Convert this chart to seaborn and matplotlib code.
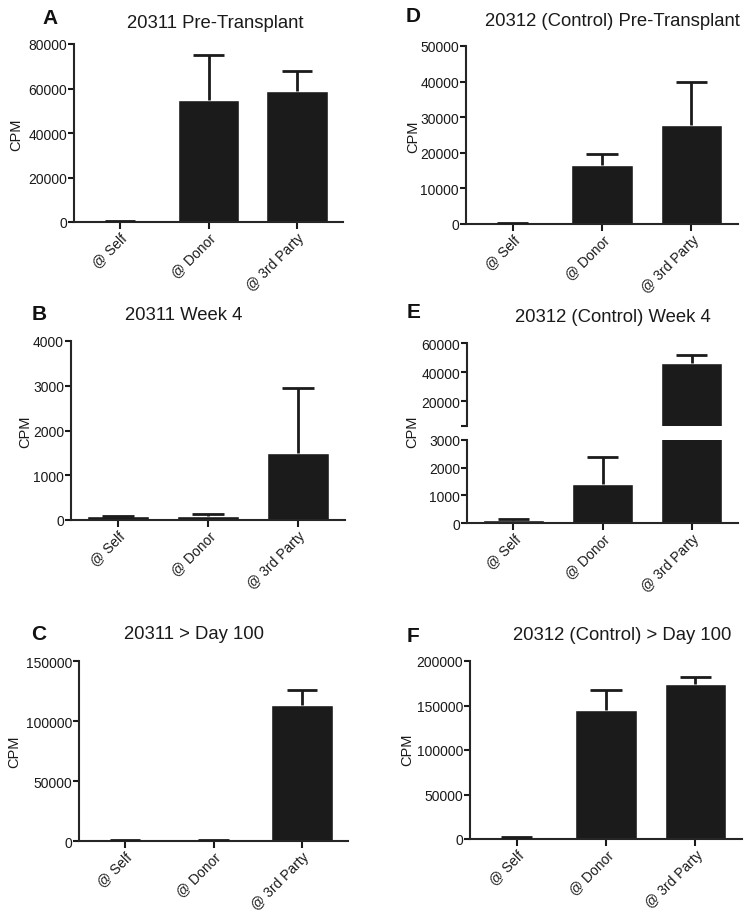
import numpy as np
import matplotlib
matplotlib.use('Agg')
import matplotlib.pyplot as plt
import seaborn as sns

# ─────────────────────────────────────────────
# Data (CPM, mean + SEM)
# ─────────────────────────────────────────────
categories = ['@ Self', '@ Donor', '@ 3rd Party']

a_mean = [300, 55000, 59000]
a_err = [200, 20000, 9000]

b_mean = [80, 100, 1500]
b_err = [20, 30, 1440]

c_mean = [600, 600, 113000]
c_err = [200, 200, 13000]

d_mean = [250, 16700, 27800]
d_err = [100, 2900, 12000]

e_mean = [110, 1420, 46200]
e_err = [30, 970, 5500]

f_mean = [2000, 144500, 174500]
f_err = [800, 23000, 8000]

sns.set_style('ticks')
plt.rcParams['font.family'] = ['Liberation Sans', 'DejaVu Sans']

W, H = 751, 920
fig = plt.figure(figsize=(W / 100, H / 100), dpi=100)


def box(l, t, r, b):
    return [l / W, 1 - b / H, (r - l) / W, (b - t) / H]


def px(x, y):
    return x / W, 1 - y / H


BAR = '#1b1b1b'
LW = 1.5


def style_axes(ax, bottom=True):
    for s in ['top', 'right']:
        ax.spines[s].set_visible(False)
    ax.spines['left'].set_linewidth(LW)
    ax.spines['bottom'].set_linewidth(LW)
    ax.spines['bottom'].set_visible(bottom)
    ax.tick_params(axis='y', length=4, width=LW, pad=1, labelsize=10, colors='#1a1a1a')
    ax.tick_params(axis='x', length=5, width=LW, pad=1, labelsize=10, colors='#1a1a1a')
    ax.set_xlim(-0.52, 2.52)
    ax.set_xlabel('')
    ax.set_ylabel('')


def draw_bars(ax, mean, err):
    sns.barplot(x=categories, y=mean, color=BAR, saturation=1, width=0.69,
                errorbar=None, ax=ax)
    # upper-only SEM bars (GraphPad "mean + SEM" style)
    xs = np.arange(len(mean))
    tops = np.array(mean) + np.array(err)
    ax.vlines(xs, mean, tops, color=BAR, lw=2, zorder=3)
    ax.hlines(tops, xs - 0.175, xs + 0.175, color=BAR, lw=2, zorder=3)


def rotate_labels(ax):
    ax.set_xticks(range(len(categories)))
    ax.set_xticklabels(categories, rotation=45, ha='right', rotation_mode='anchor')


def simple_panel(rect, mean, err, ymax, step):
    ax = fig.add_axes(box(*rect))
    draw_bars(ax, mean, err)
    ax.set_ylim(0, ymax)
    ax.set_yticks(np.arange(0, ymax + 1, step))
    ax.set_yticklabels([f'{int(v)}' for v in np.arange(0, ymax + 1, step)])
    style_axes(ax)
    rotate_labels(ax)
    return ax


# Left column
simple_panel((74, 45, 343, 223), a_mean, a_err, 80000, 20000)
simple_panel((71, 342, 345, 521), b_mean, b_err, 4000, 1000)
simple_panel((79, 662, 348, 842), c_mean, c_err, 150000, 50000)

# Right column
simple_panel((466, 47, 738, 225), d_mean, d_err, 50000, 10000)
simple_panel((470, 662, 742, 840), f_mean, f_err, 200000, 50000)

# Panel E: broken y axis
ax_top = fig.add_axes(box(467, 344, 738, 427))
draw_bars(ax_top, e_mean, e_err)
ax_top.set_ylim(3000, 60000)
ax_top.set_yticks([3000, 20000, 40000, 60000])
ax_top.set_yticklabels(['', '20000', '40000', '60000'])
style_axes(ax_top, bottom=False)
ax_top.set_xticks([])

ax_bot = fig.add_axes(box(467, 441, 738, 524))
draw_bars(ax_bot, e_mean, e_err)
ax_bot.set_ylim(0, 3000)
ax_bot.set_yticks([0, 1000, 2000, 3000])
ax_bot.set_yticklabels(['0', '1000', '2000', '3000'])
style_axes(ax_bot)
rotate_labels(ax_bot)

# Titles, panel letters, y labels
titles = [
    ('A', (42, 19), '20311 Pre-Transplant', (215, 23), (16, 135)),
    ('B', (32, 315), '20311 Week 4', (184, 316), (25, 432)),
    ('C', (31, 635), '20311 > Day 100', (194, 635), (14, 752)),
    ('D', (406, 17), '20312 (Control) Pre-Transplant', (612, 22), (413, 137)),
    ('E', (407, 313), '20312 (Control) Week 4', (613, 318), (412, 432)),
    ('F', (407, 637), '20312 (Control) > Day 100', (622, 636), (407, 750)),
]
for letter, lpos, title, tpos, ypos in titles:
    fig.text(*px(*lpos), letter, fontsize=15, fontweight='bold',
             ha='left', va='center', color='#111111')
    fig.text(*px(*tpos), title, fontsize=13.3, ha='center', va='center', color='#1a1a1a')
    fig.text(*px(*ypos), 'CPM', fontsize=10.5, rotation=90,
             ha='center', va='center', color='#1a1a1a')

fig.savefig('out.png', dpi=100, facecolor='white')
